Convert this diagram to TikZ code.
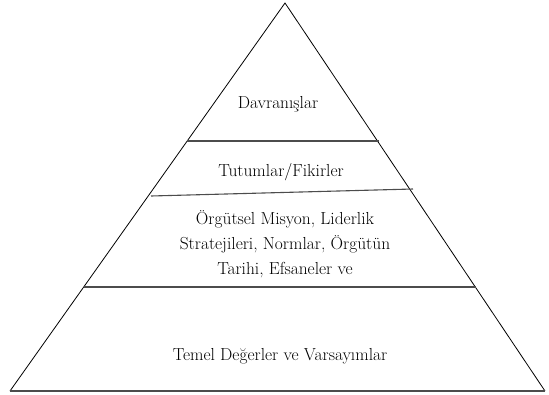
\documentclass[tikz,border=0pt]{standalone}
\usepackage{fontspec}
\tikzset{
    layer/.style={line width=1.1pt, black!70},
    layertext/.style={font=\fontsize{17.4}{25}\selectfont, align=center}
}
\begin{document}
\begin{tikzpicture}[x=1pt, y=-1pt]
    \useasboundingbox (0, 0) rectangle (549, 394);

    % outline
    \coordinate (top) at (285, 3);
    \coordinate (left) at (10, 391);
    \coordinate (right) at (545, 391);
    \draw[line width=0.8pt] (left) -- (top) -- (right);
    \draw[layer] (left) -- (right);

    % layers
    \draw[layer] (187, 141) to (379, 141);
    \draw[layer] (151, 196) to (413, 189);
    \draw[layer] (84, 287) to (476, 287);

    \node[layertext] (behaviour) at (278, 104) {Davranışlar};
    \node[layertext] (attitude) at (281, 172) {Tutumlar/Fikirler};
    \node[layertext] (mission) at (285, 244) {Örgütsel Misyon, Liderlik\\Stratejileri, Normlar, Örgütün\\Tarihi, Efsaneler ve};
    \node[layertext] (values) at (280, 356) {Temel Değerler ve Varsayımlar};
\end{tikzpicture}
\end{document}
